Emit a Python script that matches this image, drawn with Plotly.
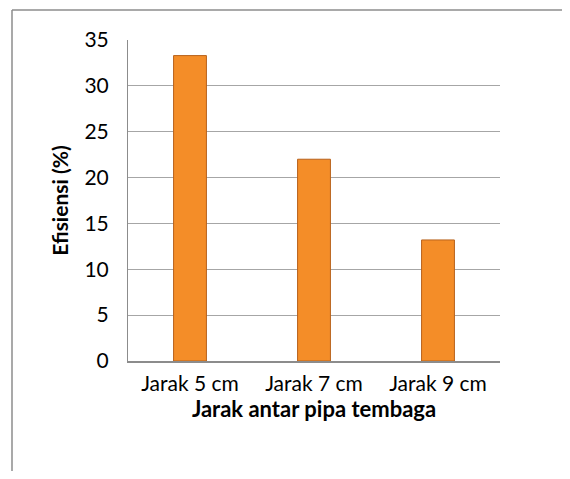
import plotly.graph_objects as go

categories = ["Jarak 5 cm", "Jarak 7 cm", "Jarak 9 cm"]
efisiensi = [33.3, 22.0, 13.2]
y_ticks = [0, 5, 10, 15, 20, 25, 30, 35]

font_family = "Lato, Carlito, Calibri, sans-serif"

fig = go.Figure()
fig.add_trace(
    go.Bar(
        x=categories,
        y=efisiensi,
        width=0.265,
        marker=dict(color="#F48D28", line=dict(color="#B8621C", width=1)),
        showlegend=False,
    )
)

# chart frame: only the left and top edges are visible in the crop
frame_left = (12 - 128) / 372
frame_top = (361 - 10) / 321
frame = dict(color="#8C8C8C", width=1.5)

# page body adds an 8px offset, so the figure is sized to fit inside it
fig.update_layout(
    width=554,
    height=463,
    margin=dict(l=120, r=62, t=32, b=110, autoexpand=False),
    plot_bgcolor="white",
    paper_bgcolor="white",
    font=dict(family=font_family, size=21, color="black"),
    xaxis=dict(
        showgrid=False,
        showline=True,
        linecolor="#8C8C8C",
        linewidth=1.5,
        ticks="",
        ticklabelstandoff=3,
        title=dict(text="<b>Jarak antar pipa tembaga</b>", standoff=8,
                   font=dict(size=22)),
    ),
    yaxis=dict(
        range=[0, 35],
        tickvals=y_ticks,
        showgrid=True,
        gridcolor="#A6A6A6",
        gridwidth=1,
        zeroline=False,
        showline=True,
        linecolor="#8C8C8C",
        linewidth=1,
        ticks="",
        ticklabelstandoff=14,
        title=dict(text="<b>Efisiensi (%)</b>", standoff=10,
                   font=dict(size=21)),
    ),
    shapes=[
        dict(type="line", xref="paper", yref="paper",
             x0=frame_left, x1=frame_left, y0=-0.5, y1=frame_top, line=frame),
        dict(type="line", xref="paper", yref="paper",
             x0=frame_left, x1=1.4, y0=frame_top, y1=frame_top, line=frame),
    ],
)

fig.write_html("out.html")
